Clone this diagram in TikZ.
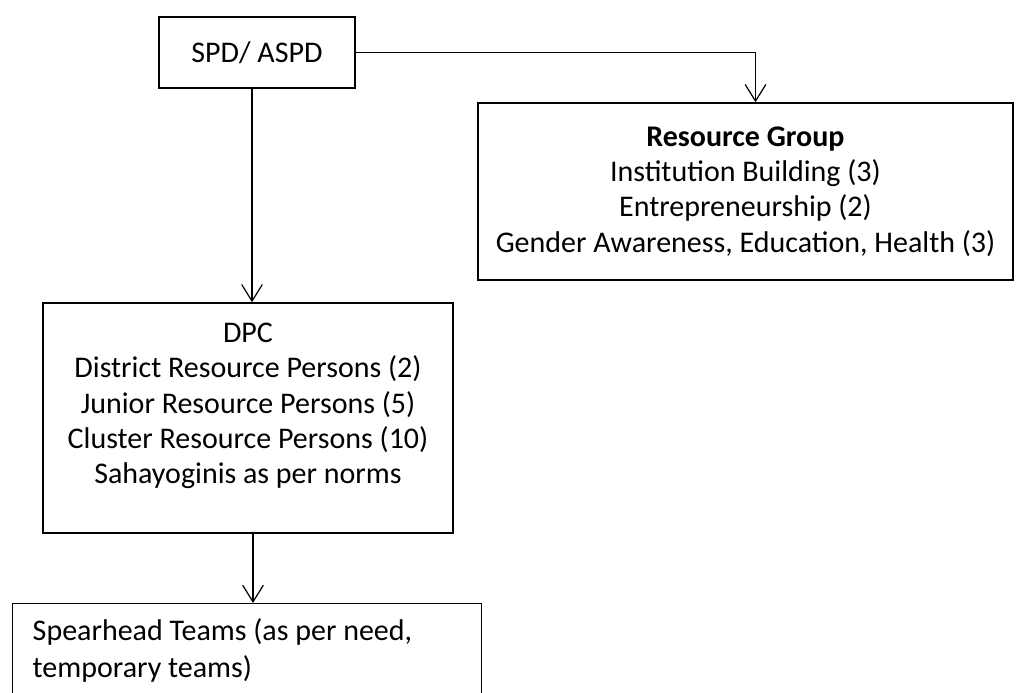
\documentclass[tikz,border=0pt]{standalone}
\usepackage{fontspec}
\setmainfont{Carlito}
\usetikzlibrary{arrows.meta}
\begin{document}
\begin{tikzpicture}[x=0.75pt,y=-0.75pt,
  box/.style={draw, line width=1.1pt, font=\fontsize{22.5pt}{26.5pt}\selectfont},
  arr/.style={line width=0.9pt, -{Straight Barb[length=12.5pt,width=15.5pt]}}]
\useasboundingbox (0,0) rectangle (1023,692);
\clip (0,0) rectangle (1023,692);
\node[box, minimum width=147pt, minimum height=53.25pt] (spd) at (257,52.5) {SPD/ ASPD};
\node[box, align=center, minimum width=401.25pt, minimum height=132.75pt] (rg) at (745.5,191.5)
  {\textbf{Resource Group}\\ Institution Building (3)\\ Entrepreneurship (2)\\ Gender Awareness, Education, Health (3)};
\node[box, align=center, minimum width=307.5pt, minimum height=172.5pt] (dpc) at (248,418)
  {DPC\\ District Resource Persons (2)\\ Junior Resource Persons (5)\\ Cluster Resource Persons (10)\\ Sahayoginis as per norms\rule[-22pt]{0pt}{22pt}};
\node[box, anchor=north west, align=flush left, text width=321.75pt, inner xsep=15pt, inner ysep=11pt,
  font=\fontsize{22.5pt}{27.75pt}\selectfont] (sph) at (12,603)
  {Spearhead Teams (as per need,\\ temporary teams)\rule[-40pt]{0pt}{40pt}};
\draw[arr] ([xshift=-3.75pt]spd.south) -- ([xshift=-3.75pt]spd.south |- dpc.north);
\draw[arr] (spd.east) -| ([xshift=7.5pt]rg.north);
\draw[arr] ([xshift=3.75pt]dpc.south) -- ([xshift=3.75pt]dpc.south |- sph.north);
\end{tikzpicture}
\end{document}
